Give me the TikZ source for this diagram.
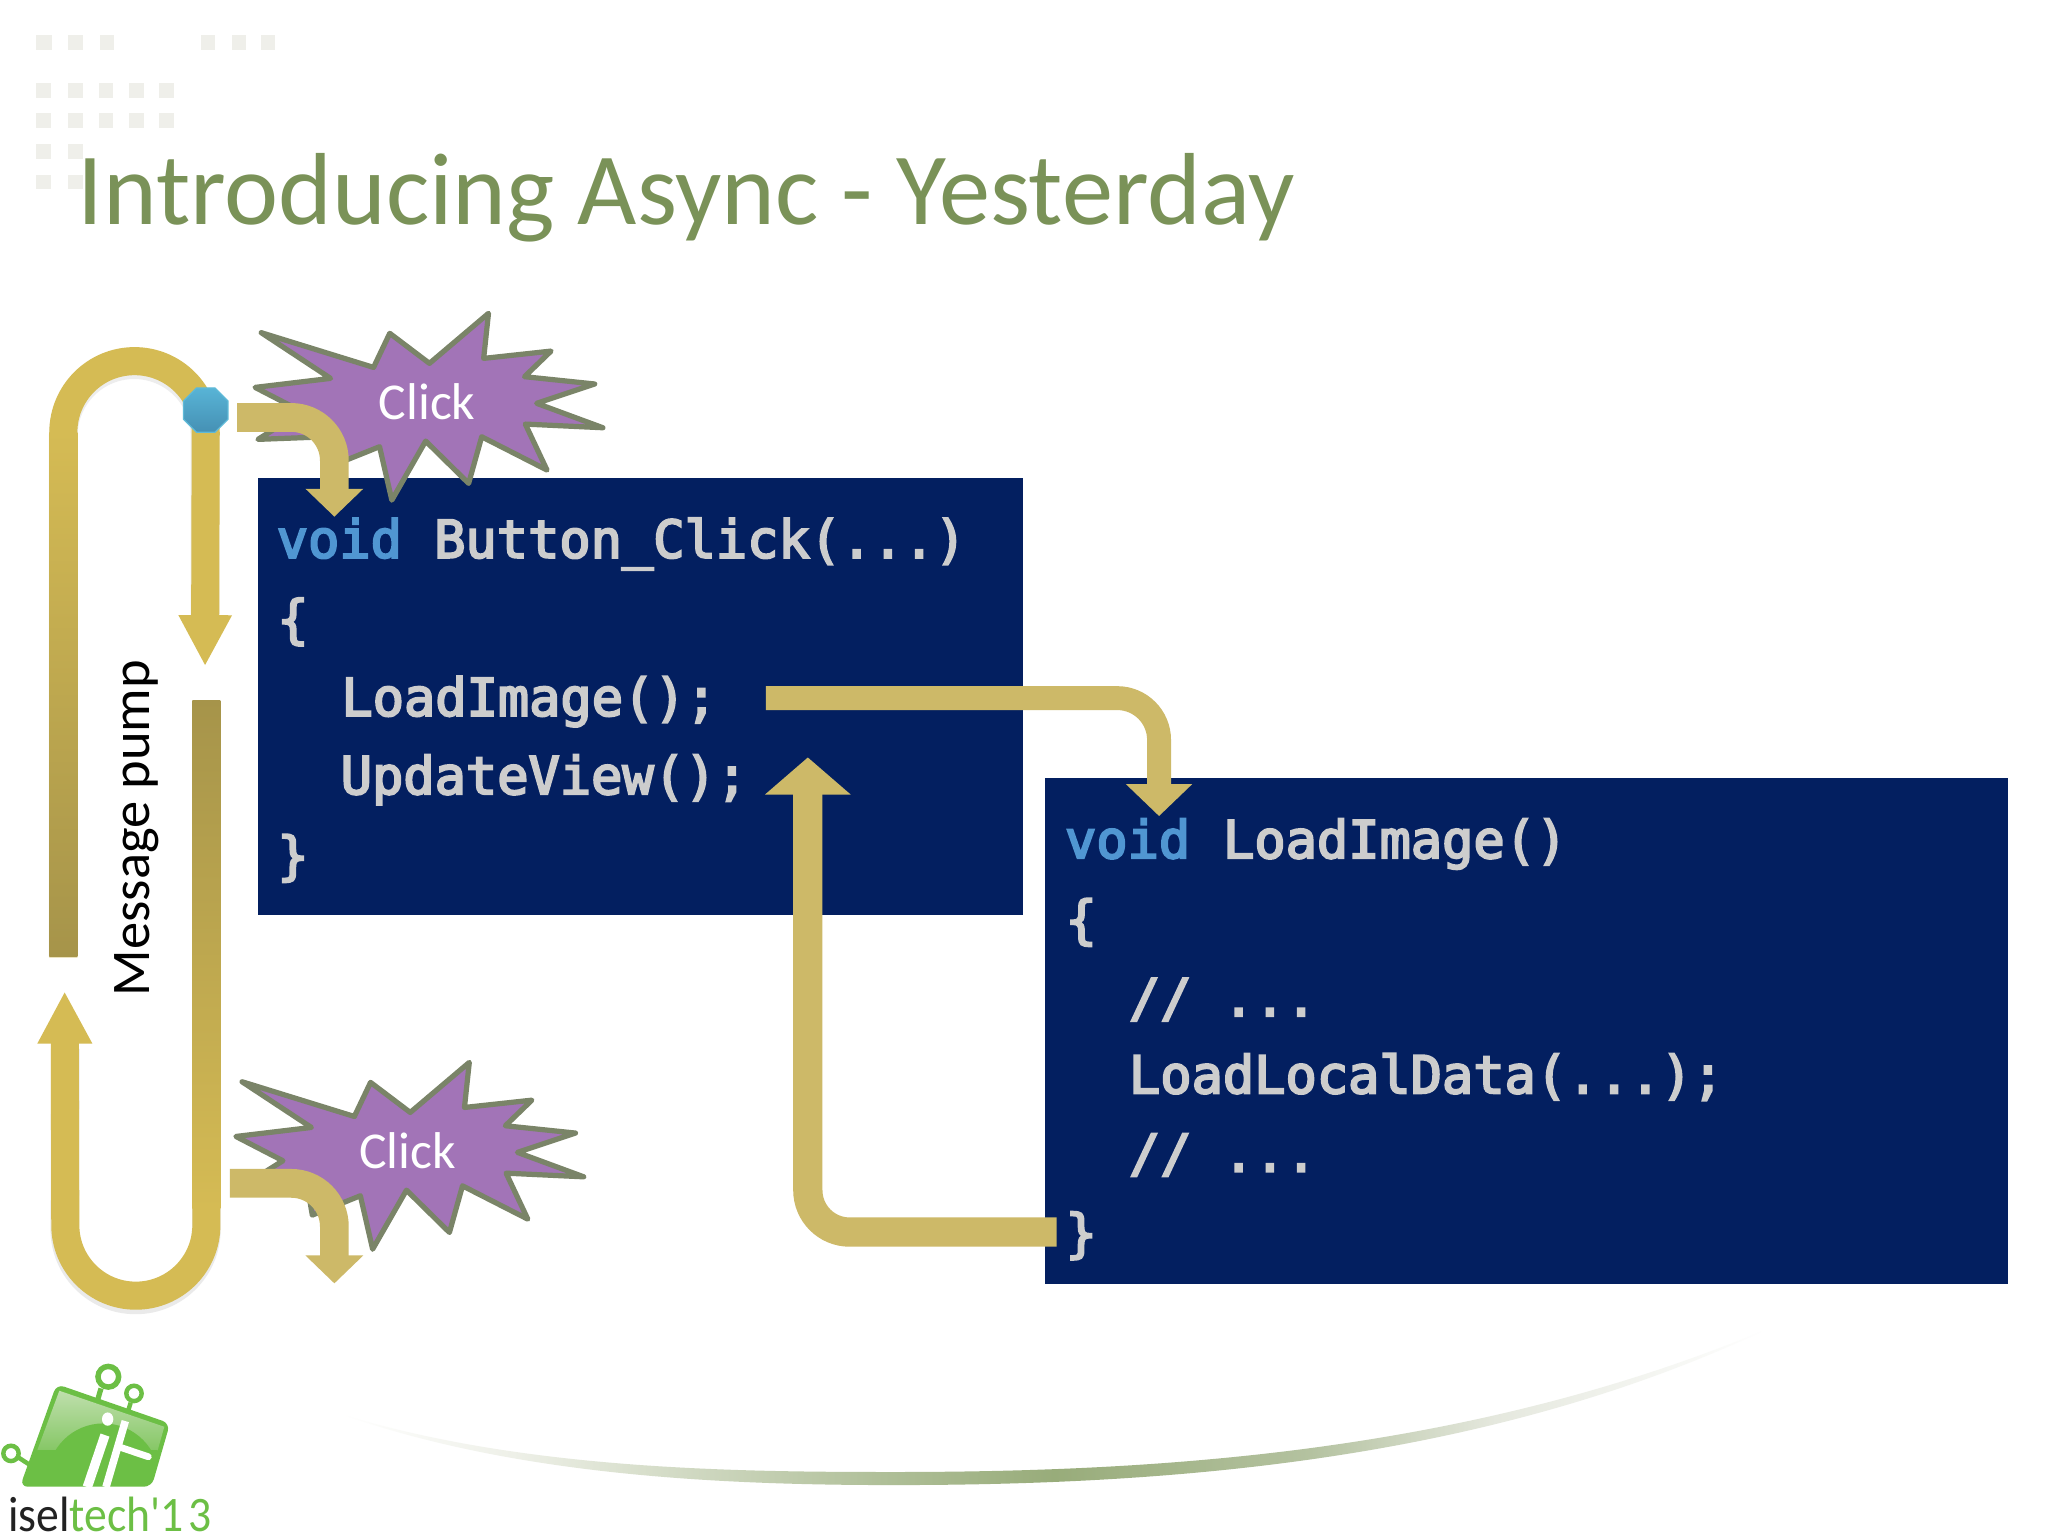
\documentclass[tikz,border=0pt]{standalone}
\usepackage{fontspec}
\setmainfont{Carlito}
\newfontfamily\logofont{Carlito}
\newfontfamily\codefont{DejaVu Sans Mono}[FakeBold=4]
\usetikzlibrary{arrows.meta,shapes.geometric}
\definecolor{navybox}{HTML}{031F60}
\definecolor{titlegreen}{HTML}{7A9258}
\definecolor{goldloop}{HTML}{D5BB54}
\definecolor{golddark}{HTML}{A6944A}
\definecolor{goldarrow}{HTML}{CDB968}
\definecolor{kwblue}{HTML}{5096D2}
\definecolor{codegrey}{HTML}{CDCDCD}
\definecolor{burstfill}{HTML}{A274B7}
\definecolor{burstline}{HTML}{7A8468}
\definecolor{dotedge}{HTML}{5FBAD8}
\definecolor{dottop}{HTML}{58B4D6}
\definecolor{dotbot}{HTML}{4590B4}
\definecolor{squaregrey}{HTML}{EFEFEA}
\definecolor{logogreen}{HTML}{6CBF45}
\definecolor{logolight}{HTML}{C6E2B5}
\definecolor{logomid}{HTML}{86C766}
\definecolor{swa}{HTML}{EEF0E8}
\definecolor{swb}{HTML}{AFBF98}
\definecolor{swc}{HTML}{98AC7A}
\definecolor{swd}{HTML}{B4C2A0}
\definecolor{swe}{HTML}{E5E8DE}
\pgfdeclarehorizontalshading{swooshshade}{100bp}{color(0bp)=(white); color(25bp)=(white); color(31bp)=(swa); color(44bp)=(swb); color(50bp)=(swc); color(59bp)=(swd); color(65.5bp)=(swe); color(75bp)=(white); color(100bp)=(white)}
\tikzset{
  codebox/.style={fill=navybox,draw=none,inner sep=0pt,anchor=north west},
  codetext/.style={anchor=base west,inner sep=0pt,text=codegrey,font=\codefont\fontsize{19.9}{24}\selectfont},
  kw/.style={codetext,text=kwblue},
  burst/.style={fill=burstfill,draw=burstline,line width=2pt,line join=round},
  clicklabel/.style={anchor=base,inner sep=0pt,text=white,font=\fontsize{19.8}{24}\selectfont},
  loopline/.style={draw=goldloop,line width=10.75pt},
  flow/.style={draw=goldarrow,line width=#1},
  gridsq/.style={fill=squaregrey},
}
\newcommand{\burstpts}{(200,254.7)--(286,281.3)--(298.4,255.2)--(328.8,278.2)--(374,239.9)--(370.3,274.4)--(421.9,268.8)--(401.6,288.4)--(455.3,294)--(410.9,308.8)--(461.6,327.5)--(402.2,324.7)--(418.8,359.9)--(368.8,334.4)--(358.8,370.1)--(325.9,337.7)--(300,382.9)--(290.6,342)--(253.8,356.8)--(250,334.4)--(197.5,336.4)--(231.3,315.2)--(195.3,296.6)--(253.1,289.7)--cycle}
\begin{document}
\begin{tikzpicture}[x=0.5pt,y=-0.5pt]
\useasboundingbox (0,0) rectangle (1568,1176);
\fill[white] (0,0) rectangle (1568,1176);

% background squares
\begin{scope}[x=0.1276pt,y=-0.1276pt]
\foreach \a/\b in {108/155,203/248,300/343,603/645,695/737,782/825}
  \fill[gridsq] (\a,105) rectangle (\b,150);
\foreach \a/\b in {108/153,203/248,297/338,388/432,477/522}{
  \fill[gridsq] (\a,250) rectangle (\b,293);
  \fill[gridsq] (\a,338) rectangle (\b,385);}
\foreach \a/\b in {108/153,203/248}{
  \fill[gridsq] (\a,432) rectangle (\b,477);
  \fill[gridsq] (\a,525) rectangle (\b,567);}
\end{scope}

% swoosh
\shade[shading=swooshshade] (262,1083) .. controls (400,1125) and (560,1127) .. (684,1127) .. controls (900,1127) and (1130,1110) .. (1352,1018) .. controls (1140,1118) and (900,1137) .. (684,1137) .. controls (540,1137) and (390,1128) .. (262,1083) -- cycle;

% title
\node[anchor=base west,inner sep=0pt,text=titlegreen,font=\fontsize{39.2}{46}\selectfont] (title) at (59,172) {Introducing Async - Yesterday};

% code boxes
\node[codebox,minimum width=293.2pt,minimum height=167.3pt] (box1) at (196.8,365.5) {};
\node[codebox,minimum width=368.5pt,minimum height=193.75pt] (box2) at (800,595.5) {};

\node[kw] (v1) at (211.5,427) {void};
\node[codetext] (b1) at (332,427) {Button\_Click(...)};
\node[codetext] (b2) at (212,488) {\{};
\node[codetext] (b3) at (261,548) {LoadImage();};
\node[codetext] (b4) at (260.5,608) {UpdateView();};
\node[codetext] (b5) at (212,669) {\}};

\node[kw] (v2) at (815,657) {void};
\node[codetext] (l1) at (936,657) {LoadImage()};
\node[codetext] (l2) at (815.5,718) {\{};
\node[codetext] (l3) at (864,778) {// ...};
\node[codetext] (l4) at (864,837) {LoadLocalData(...);};
\node[codetext] (l5) at (864,897) {// ...};
\node[codetext] (l6) at (815.5,958) {\}};

% bursts
\draw[burst] \burstpts;
\draw[burst,shift={(-14.7,573.5)}] \burstpts;
\node[clicklabel] (click1) at (327,320.8) {Click};
\node[clicklabel] (click2) at (312,894.3) {Click};

% message pump loop
\coordinate (upStart) at (48.5,733);
\coordinate (upEnd) at (157,510);
\coordinate (lowStart) at (158,537);
\coordinate (lowEnd) at (49.5,759);
\draw[gray,opacity=.14,line width=11pt,yshift=-1.2pt] (upStart) -- (48.5,331) arc[start angle=180,end angle=0,radius=27.1pt] -- (157,470);
\draw[gray,opacity=.16,line width=11pt,yshift=-1.5pt] (lowStart) -- (158,938) arc[start angle=0,end angle=-180,radius=27.1pt] -- (50,800);
\draw[loopline,-{Triangle[width=19pt,length=19.5pt]}] (upStart) -- (48.5,331) arc[start angle=180,end angle=0,radius=27.25pt] -- (upEnd);
\draw[loopline,-{Triangle[width=19.5pt,length=20pt]}] (lowStart) -- (158,938) arc[start angle=0,end angle=-180,radius=27pt] -- (lowEnd);
\shade[top color=goldloop,bottom color=golddark] (37.75,331) rectangle (59.25,732.5);
\shade[top color=golddark,bottom color=goldloop] (147.25,536) rectangle (168.75,925);
\node[rotate=90,anchor=base,inner sep=0pt,text=black,font=\fontsize{20.85}{26}\selectfont] (pump) at (114.3,634) {Message pump};
\node[regular polygon,regular polygon sides=8,minimum size=18.4pt,inner sep=0pt,draw=dotedge,line width=.5pt,top color=dottop,bottom color=dotbot] (dot) at (157.5,314) {};

% flow arrows
\coordinate (a1s) at (181.5,319.6);
\coordinate (a1t) at (256,395.6);
\coordinate (a2s) at (176,906);
\coordinate (a2t) at (256,982.6);
\coordinate (a3s) at (586.3,534.5);
\coordinate (a3t) at (887.4,624.8);
\coordinate (a4s) at (809,943.3);
\coordinate (a4t) at (618.5,579.9);
\draw[flow=11pt,rounded corners=16.5pt,-{Triangle[width=21.5pt,length=10.7pt]}] (a1s) -| (a1t);
\draw[flow=11pt,rounded corners=16.5pt,-{Triangle[width=21.5pt,length=10.7pt]}] (a2s) -| (a2t);
\draw[flow=9.15pt,rounded corners=16pt,-{Triangle[width=24.6pt,length=12.2pt]}] (a3s) -| (a3t);
\draw[flow=11.2pt,rounded corners=16pt,-{Triangle[width=32pt,length=14.2pt]}] (a4s) -| (a4t);

% logo
\begin{scope}[shift={(0,1026)},x=0.1276pt,y=-0.1276pt]
\draw[logogreen,line width=2.1pt,fill=white] (325,110) circle[radius=31];
\draw[logogreen,line width=1.7pt,fill=white] (402,160) circle[radius=23];
\draw[logogreen,line width=1.7pt,fill=white] (33,340) circle[radius=23];
\draw[logogreen,line width=2pt] (303,145) -- (290,190);
\draw[logogreen,line width=1.7pt] (392,188) -- (382,220);
\draw[logogreen,line width=1.7pt] (55,352) -- (95,378);
\fill[logogreen,rounded corners=3pt] (170,132) -- (510,250) -- (455,440) -- (60,440) -- cycle;
\begin{scope}
\clip (178,152) -- (493,260) -- (445,430) -- (75,430) -- cycle;
\shade[top color=logolight,bottom color=logomid] (60,130) rectangle (510,330);
\fill[logogreen] (310,418) circle[radius=168];
\fill[logogreen] (60,330) rectangle (510,445);
\end{scope}
\draw[white,line width=3.6pt] (315,285) -- (262,441);
\draw[white,line width=2.9pt] (376,243) -- (318,441);
\draw[white,line width=2.6pt,line cap=round] (362,322) -- (445,350);
\fill[white] (323,237) ellipse[x radius=17,y radius=20];
\end{scope}
\node[anchor=base west,inner sep=0pt,xscale=.92,font=\logofont\fontsize{19}{22}\selectfont] (logotext) at (6,1172.5) {\textcolor[HTML]{222222}{isel}\textcolor{logogreen}{tech'1\kern 2pt 3}};
\end{tikzpicture}
\end{document}
